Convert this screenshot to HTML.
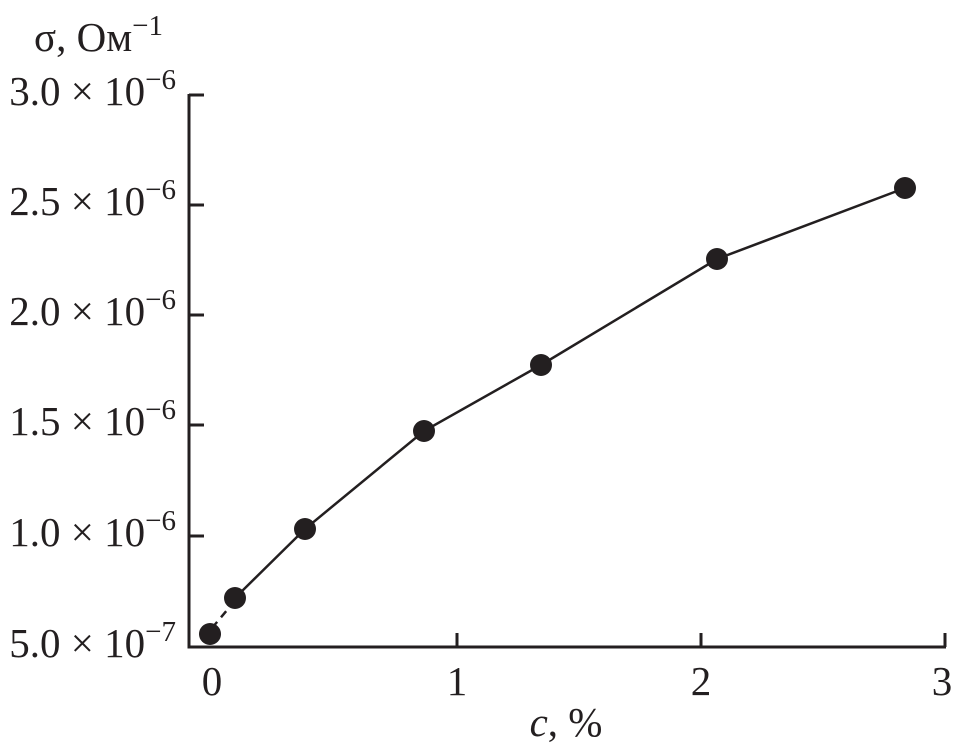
<!DOCTYPE html>
<html><head><meta charset="utf-8"><style>body{margin:0;background:#fff}</style></head><body>
<svg width="955" height="746" xmlns="http://www.w3.org/2000/svg" font-family="Liberation Serif, serif" fill="#231f20">
<g stroke="#231f20" stroke-width="3" fill="none">
<polyline points="189,94 189,647 946,647"/>
<line x1="189" y1="95" x2="204" y2="95"/><line x1="189" y1="205" x2="204" y2="205"/>
<line x1="189" y1="315" x2="204" y2="315"/><line x1="189" y1="425" x2="204" y2="425"/>
<line x1="189" y1="536" x2="204" y2="536"/>
<line x1="457" y1="647" x2="457" y2="633"/><line x1="701" y1="647" x2="701" y2="633"/><line x1="945" y1="647" x2="945" y2="633"/>
<polyline stroke-width="2.5" points="235,598 305,529 424,431 541,365 717,259 905,188"/>
<line x1="212" y1="628" x2="233" y2="603" stroke-width="2.5" stroke-dasharray="8,6"/>
</g>
<g>
<circle cx="210" cy="634" r="11"/><circle cx="235" cy="598" r="11"/><circle cx="305" cy="529" r="11"/>
<circle cx="424" cy="431" r="11"/><circle cx="541" cy="365" r="11"/><circle cx="717" cy="259" r="11"/><circle cx="905" cy="188" r="11"/>
</g>
<g font-size="41" text-anchor="end">
<text x="176" y="105">3.0 × 10<tspan dy="-16" font-size="29">−6</tspan></text>
<text x="176" y="215">2.5 × 10<tspan dy="-16" font-size="29">−6</tspan></text>
<text x="176" y="325">2.0 × 10<tspan dy="-16" font-size="29">−6</tspan></text>
<text x="176" y="435">1.5 × 10<tspan dy="-16" font-size="29">−6</tspan></text>
<text x="176" y="546">1.0 × 10<tspan dy="-16" font-size="29">−6</tspan></text>
<text x="176" y="657">5.0 × 10<tspan dy="-16" font-size="29">−7</tspan></text>
</g>
<text x="34" y="51" font-size="41">σ, Ом<tspan dy="-16" font-size="29">−1</tspan></text>
<g font-size="41" text-anchor="middle">
<text x="212" y="695">0</text><text x="457" y="695">1</text><text x="701" y="695">2</text><text x="942" y="695">3</text>
<text x="566" y="736"><tspan font-style="italic">c</tspan>, %</text>
</g>
</svg>
</body></html>
